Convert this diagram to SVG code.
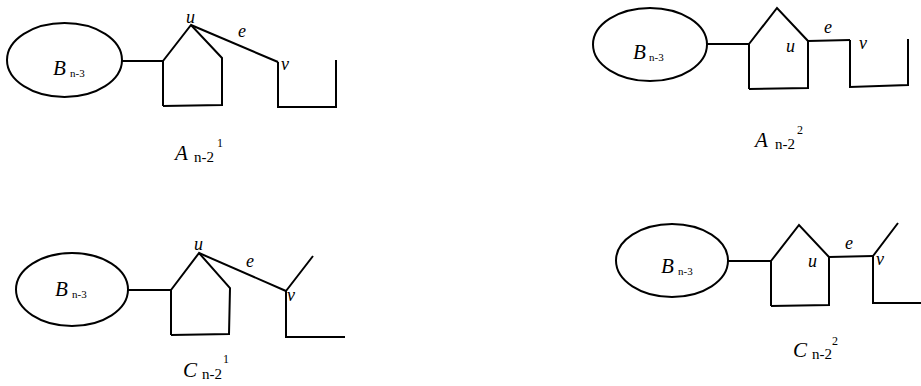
<svg xmlns="http://www.w3.org/2000/svg" width="921" height="386" viewBox="0 0 921 386" font-family="Liberation Serif, serif">
  <style>
    .ln { fill: none; stroke: #000; stroke-width: 2; stroke-linejoin: miter; }
    .it { font-style: italic; }
    .big { font-size: 21px; }
    .lbl { font-size: 18px; }
    .sub { font-size: 11px; }
    .sub2 { font-size: 15px; }
    .sup { font-size: 12px; }
  </style>
  <rect width="921" height="386" fill="#fff"/>

  <!-- A_{n-2}^1 -->
  <g id="A1">
    <ellipse class="ln" cx="64.5" cy="60" rx="57.5" ry="37"/>
    <text class="it big" x="53" y="75">B</text><text class="sub" x="70" y="77">n-3</text>
    <polyline class="ln" points="163,106 163,61 191,25 222,58 222,105 163,106"/>
    <polyline class="ln" points="278,62 278,107 336,107 336,60"/>
    <text class="it lbl" x="186" y="23">u</text>
    <text class="it lbl" x="238" y="37">e</text>
    <text class="it lbl" x="281" y="70">v</text>
    <text class="it big" x="175" y="160">A</text><text class="sub2" x="194" y="162">n-2</text><text class="sup" x="217" y="147">1</text>
  </g>

  <!-- A_{n-2}^2 -->
  <g id="A2">
    <ellipse class="ln" cx="650" cy="44.5" rx="57" ry="36.5"/>
    <text class="it big" x="633" y="59">B</text><text class="sub" x="649" y="61">n-3</text>
    <polyline class="ln" points="749,89 749,44 777,8 808,41 808,88 749,89"/>
    <polyline class="ln" points="850,40 850,87 908,85 908,39"/>
    <text class="it lbl" x="786" y="52">u</text>
    <text class="it lbl" x="824" y="33">e</text>
    <text class="it lbl" x="859" y="49">v</text>
    <text class="it big" x="755" y="147">A</text><text class="sub2" x="775" y="149">n-2</text><text class="sup" x="797" y="134">2</text>
  </g>

  <!-- C_{n-2}^1 -->
  <g id="C1">
    <ellipse class="ln" cx="72" cy="289.5" rx="56" ry="36.5"/>
    <text class="it big" x="55" y="296">B</text><text class="sub" x="72" y="298">n-3</text>
    <polyline class="ln" points="171,335 171,290 199,253 230,288 229,334 171,335"/>
    <polyline class="ln" points="313,256 286,291 286,337 345,337"/>
    <text class="it lbl" x="194" y="250">u</text>
    <text class="it lbl" x="246" y="267">e</text>
    <text class="it lbl" x="287" y="301">v</text>
    <text class="it big" x="183" y="377">C</text><text class="sub2" x="202" y="379">n-2</text><text class="sup" x="223" y="363">1</text>
  </g>

  <!-- C_{n-2}^2 -->
  <g id="C2">
    <ellipse class="ln" cx="672" cy="260.5" rx="56" ry="36.5"/>
    <text class="it big" x="661" y="273">B</text><text class="sub" x="678" y="275">n-3</text>
    <polyline class="ln" points="771,306 771,261 799,225 829,257 829,305 771,306"/>
    <polyline class="ln" points="898,223 873,256 873,303 921,303"/>
    <text class="it lbl" x="808" y="267">u</text>
    <text class="it lbl" x="845" y="249">e</text>
    <text class="it lbl" x="876" y="265">v</text>
    <text class="it big" x="793" y="357">C</text><text class="sub2" x="812" y="359">n-2</text><text class="sup" x="832" y="345">2</text>
  </g>

  <!-- connecting edges: ellipse links and the edge e -->
  <g id="connectors">
    <line class="ln" x1="122" y1="61" x2="163" y2="61"/>
    <line class="ln" x1="191" y1="25" x2="278" y2="62"/>
    <line class="ln" x1="707" y1="44" x2="749" y2="44"/>
    <line class="ln" x1="808" y1="41" x2="850" y2="40"/>
    <line class="ln" x1="128" y1="290" x2="171" y2="290"/>
    <line class="ln" x1="199" y1="253" x2="286" y2="291"/>
    <line class="ln" x1="728" y1="261" x2="771" y2="261"/>
    <line class="ln" x1="829" y1="257" x2="873" y2="256"/>
  </g>
</svg>
